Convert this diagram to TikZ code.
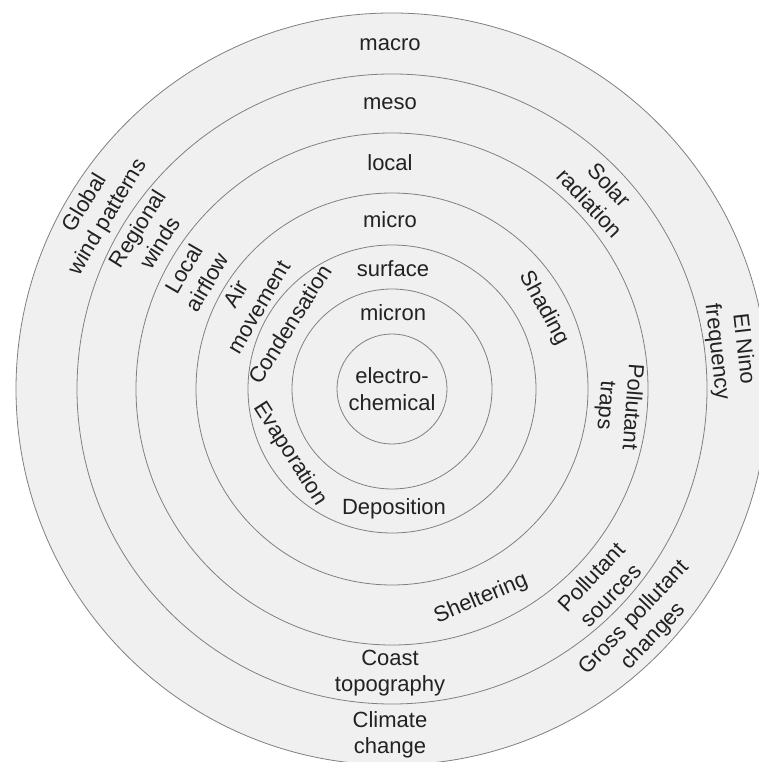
\documentclass[tikz,border=0pt]{standalone}
\usepackage{fontspec}
\setmainfont{Liberation Sans}
\begin{document}
\begin{tikzpicture}[x=1pt,y=1pt,
  ring/.style={draw=ringline, line width=0.8pt},
  lbl/.style={align=center, inner sep=0pt, text=labeltext,
    font=\fontsize{22}{26.5}\selectfont}]
  \definecolor{ringfill}{HTML}{F0F0F0}
  \definecolor{ringline}{HTML}{808080}
  \definecolor{labeltext}{HTML}{222222}
  \useasboundingbox (0,0) rectangle (759,762);
  \clip (0,0) rectangle (759,762);
  \coordinate (O) at (392,373);
  % concentric scale rings
  \fill[ringfill] (O) circle[radius=376];
  \foreach \r in {376,315,256,196,144,100,55}
    \draw[ring] (O) circle[radius=\r];
  % ring names
  \node[lbl] (macro)   at (390,717) {macro};
  \node[lbl] (meso)    at (390,658) {meso};
  \node[lbl] (local)   at (390,599) {local};
  \node[lbl] (micro)   at (390,542) {micro};
  \node[lbl] (surface) at (393,493) {surface};
  \node[lbl] (micron)  at (393,449) {micron};
  \node[lbl] (electro) at (O) {electro-\\chemical};
  % horizontal process labels
  \node[lbl] (depo)    at (394,253) {Deposition};
  \node[lbl] (coast)   at (390,89)  {Coast\\topography};
  \node[lbl] (climate) at (390,27)  {Climate\\change};
  % process labels set along the rings
  \begin{scope}[shift={(O)}]
    \node[lbl, rotate=58.8]  (global)   at (148.8:345) {Global\\wind patterns};
    \node[lbl, rotate=57.8]  (regional) at (147.8:288) {Regional\\winds};
    \node[lbl, rotate=60]    (airflow)  at (150:227)   {Local\\airflow};
    \node[lbl, rotate=59.5]  (airmov)   at (148.5:170) {Air\\movement};
    \node[lbl, rotate=57.7]  (cond)     at (147.7:121) {Condensation};
    \node[lbl, rotate=-57.5] (evap)     at (-147.5:121) {Evaporation};
    \node[lbl, rotate=-46.8] (solar)    at (43.2:285)  {Solar\\radiation};
    \node[lbl, rotate=-62]   (shading)  at (28:172)    {Shading};
    \node[lbl, rotate=-83.5] (elnino)   at (6.5:340)   {El Nino\\frequency};
    \node[lbl, rotate=-94.3] (traps)    at (-4.3:227)  {Pollutant\\traps};
    \node[lbl, rotate=23]    (shelter)  at (-67:228)   {Sheltering};
    \node[lbl, rotate=46.7]  (sources)  at (-43.3:287) {Pollutant\\sources};
    \node[lbl, rotate=46.6]  (gross)    at (-43.4:347) {Gross pollutant\\changes};
  \end{scope}
\end{tikzpicture}
\end{document}
